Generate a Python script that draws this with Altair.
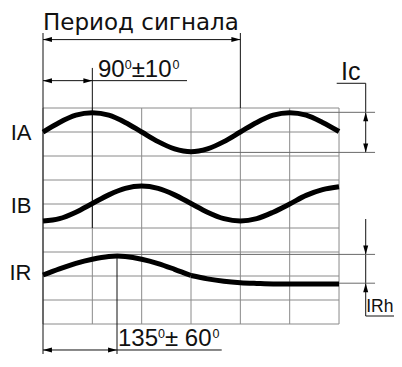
import altair as alt
import pandas as pd

# ---------------- data ----------------
# phase angle (degrees) and signal level (in grid rows, 0 = bottom of grid)
deg = [0, 30, 60, 90, 120, 150, 180, 210, 240, 270, 300, 330, 360, 390, 420, 450, 480, 510, 540]
ia = [8.0, 8.4, 8.7, 8.8, 8.7, 8.4, 8.0, 7.6, 7.3, 7.18, 7.3, 7.6, 8.0, 8.4, 8.7, 8.8, 8.7, 8.4, 8.02]
ib = [4.29, 4.39, 4.66, 5.02, 5.38, 5.65, 5.75, 5.65, 5.38, 5.02, 4.66, 4.39, 4.29, 4.39, 4.66, 5.0, 5.36, 5.6, 5.72]
ir_deg_a = [0, 30, 60, 90, 120, 135, 150, 180, 210, 240, 270]
ir_a = [2.04, 2.3, 2.53, 2.7, 2.81, 2.83, 2.81, 2.7, 2.52, 2.28, 2.02]
ir_deg_b = [270, 300, 330, 360, 390, 420, 450, 480, 510, 540]
ir_b = [2.02, 1.88, 1.78, 1.72, 1.69, 1.67, 1.67, 1.67, 1.67, 1.67]

grid_cols = [0, 90, 180, 270, 360, 450, 540]
grid_rows = [0, 1, 2, 3, 4, 5, 6, 7, 8, 9]

row_labels = ["IA", "IB", "IR"]
title_text = "Период сигнала"

# ---------------- tables built from the arrays ----------------
curves = pd.concat([
    pd.DataFrame({"deg": deg, "lvl": ia, "s": "IA"}),
    pd.DataFrame({"deg": deg, "lvl": ib, "s": "IB"}),
    pd.DataFrame({"deg": ir_deg_a, "lvl": ir_a, "s": "IR1"}),
    pd.DataFrame({"deg": ir_deg_b, "lvl": ir_b, "s": "IR2"}),
])

GRID = "#8a8a8a"
DARK = "#111111"
EXT = "#6a6a6a"

grid = pd.DataFrame(
    [(c, 0, c, 9, GRID) for c in grid_cols] + [(0, r, 540, r, GRID) for r in grid_rows],
    columns=["x1", "y1", "x2", "y2", "c"],
)

dims = pd.DataFrame([
    (0, 12.125, 0, -1.3, DARK),
    (360, 12.125, 360, 9, DARK),
    (0, 11.85, 360, 11.85, DARK),
    (90, 10.67, 90, 4, DARK),
    (0, 10.14, 262.7, 10.14, DARK),
    (135, 2.83, 135, -1.3, DARK),
    (0, -1.083, 326, -1.083, DARK),
    (535.8, 10.03, 588.7, 10.03, DARK),
    (588.7, 10.03, 588.7, 7.15, DARK),
    (450, 8.82, 605.7, 8.82, EXT),
    (270, 7.15, 605.7, 7.15, EXT),
    (588.7, 4.375, 588.7, 0.333, DARK),
    (588.7, 0.333, 645, 0.333, DARK),
    (135, 2.9, 605.7, 2.9, EXT),
    (400, 1.7, 605.7, 1.7, EXT),
], columns=["x1", "y1", "x2", "y2", "c"])

arrows = pd.DataFrame([
    (0, 11.85, "left"), (360, 11.85, "right"),
    (0, 10.14, "left"), (90, 10.14, "right"),
    (0, -1.083, "left"), (135, -1.083, "right"),
    (588.7, 8.82, "up"), (588.7, 7.15, "down"),
    (588.7, 2.9, "down"), (588.7, 1.7, "up"),
], columns=["x", "y", "d"])

texts = pd.DataFrame([
    ("90", 100.3, 10.28, 24), ("0", 149.0, 10.62, 12.5),
    ("±10", 161.8, 10.28, 24), ("0", 236.1, 10.62, 12.5),
    ("135", 136.8, -0.917, 24), ("0", 209.8, -0.583, 12.5),
    ("± 60", 222.6, -0.917, 24), ("0", 309.1, -0.583, 12.5),
    ("Ic", 543.6, 10.17, 25),
    ("IRh", 589.5, 0.52, 17.5),
], columns=["t", "x", "y", "fs"])

labels = pd.DataFrame({"t": row_labels, "x": [-21, -21, -21], "y": [7.67, 4.625, 1.83]})
title = pd.DataFrame({"t": [title_text], "x": [0], "y": [12.27]})

# ---------------- scales ----------------
X = alt.Scale(domain=[-63.85, 640.3], nice=False, zero=False)
Y = alt.Scale(domain=[-1.25, 13.167], nice=False, zero=False)


def rules(df):
    return alt.Chart(df).mark_rule(strokeWidth=1).encode(
        x=alt.X("x1:Q", scale=X, axis=None),
        y=alt.Y("y1:Q", scale=Y, axis=None),
        x2="x2:Q",
        y2="y2:Q",
        color=alt.Color("c:N", scale=None),
    )


grid_layer = rules(grid)
dim_layer = rules(dims)

curve_layer = alt.Chart(curves).mark_line(
    color="black", strokeWidth=5, interpolate="monotone", strokeCap="butt"
).encode(
    x=alt.X("deg:Q", scale=X, axis=None),
    y=alt.Y("lvl:Q", scale=Y, axis=None),
    detail="s:N",
    order="deg:Q",
)

paths = {
    "left": "M0,0L1,-0.28L1,0.28Z",
    "right": "M0,0L-1,-0.28L-1,0.28Z",
    "up": "M0,0L-0.28,1L0.28,1Z",
    "down": "M0,0L-0.28,-1L0.28,-1Z",
}
arrow_layer = alt.Chart(arrows).mark_point(filled=True, opacity=1, color="black", size=320).encode(
    x=alt.X("x:Q", scale=X, axis=None),
    y=alt.Y("y:Q", scale=Y, axis=None),
    shape=alt.Shape("d:N", scale=alt.Scale(domain=list(paths.keys()), range=list(paths.values())), legend=None),
)

text_layer = alt.Chart(texts).mark_text(
    align="left", baseline="alphabetic", font="Liberation Sans", color="#111111"
).encode(
    x=alt.X("x:Q", scale=X, axis=None),
    y=alt.Y("y:Q", scale=Y, axis=None),
    text="t:N",
    size=alt.Size("fs:Q", scale=None),
)

label_layer = alt.Chart(labels).mark_text(
    align="right", baseline="alphabetic", font="Liberation Sans", fontSize=22, color="#111111"
).encode(
    x=alt.X("x:Q", scale=X, axis=None),
    y=alt.Y("y:Q", scale=Y, axis=None),
    text="t:N",
)

title_layer = alt.Chart(title).mark_text(
    align="left", baseline="alphabetic", font="DejaVu Sans", fontSize=23, color="#111111"
).encode(
    x=alt.X("x:Q", scale=X, axis=None),
    y=alt.Y("y:Q", scale=Y, axis=None),
    text="t:N",
)

chart = alt.layer(
    grid_layer, dim_layer, curve_layer, arrow_layer, text_layer, label_layer, title_layer
).properties(
    width=386, height=346, padding=0, autosize=alt.AutoSizeParams(type="none"), background="white"
).configure_view(stroke=None)

chart.save("out.html", embed_options={"renderer": "svg", "actions": False})
